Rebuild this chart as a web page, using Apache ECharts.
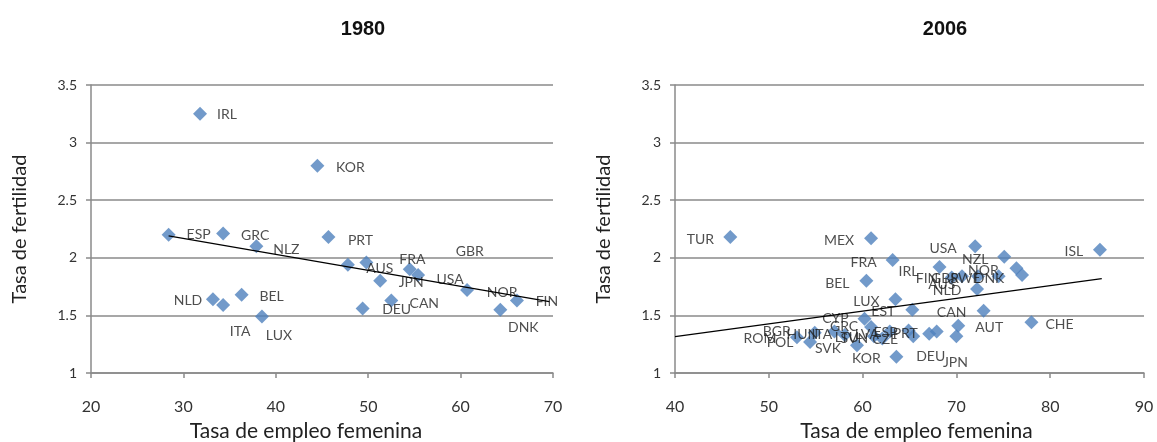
<!DOCTYPE html>
<html>
<head>
<meta charset="utf-8">
<script src="https://cdn.jsdelivr.net/npm/echarts@6/dist/echarts.min.js"></script>
<style>
html,body{margin:0;padding:0;background:#fff;}
#chart{width:1157px;height:442px;}
</style>
</head>
<body>
<div id="chart"></div>
<script>
// ---------- DATA ----------
const countries1980 = ['ESP','IRL','GRC','NLD','ITA','BEL','NLZ','LUX','KOR','PRT','AUS','FRA','DEU','JPN','CAN','GBR','USA','NOR','DNK','FIN'];
const employment1980 = [28.4,31.8,34.3,33.2,34.3,36.3,37.9,38.5,44.5,45.7,47.8,49.8,49.4,51.3,52.5,54.5,55.4,60.7,64.3,66.1];
const fertility1980  = [2.20,3.25,2.21,1.64,1.59,1.68,2.10,1.49,2.80,2.18,1.94,1.96,1.56,1.80,1.63,1.90,1.85,1.72,1.55,1.63];
const trend1980X = [28.4, 69.6];
const trend1980Y = [2.19, 1.62];

const countries2006 = ['TUR','MEX','FRA','BEL','LUX','EST','USA','NZL','ISL','IRL','NOR','DNK','SWE','GBR','FIN','AUS','NLD','CAN','AUT','CHE','JPN','DEU','PRT','KOR','CZE','ESP','LVA','SVN','LTU','GRC','CYP','SVK','ITA','HUN','BGR','POL','ROM'];
const employment2006 = [45.9,60.9,63.2,60.4,63.5,65.3,72.0,75.1,85.3,68.2,76.4,77.0,74.5,72.3,70.6,69.5,72.2,72.9,70.2,78.0,70.0,67.9,67.1,63.6,65.4,64.9,62.9,62.1,61.2,60.9,60.2,59.4,58.1,57.0,54.9,54.4,53.0];
const fertility2006  = [2.18,2.17,1.98,1.80,1.64,1.55,2.10,2.01,2.07,1.92,1.91,1.85,1.84,1.84,1.84,1.83,1.73,1.54,1.41,1.44,1.32,1.36,1.34,1.14,1.32,1.37,1.36,1.30,1.32,1.40,1.47,1.24,1.33,1.36,1.35,1.27,1.31];
const trend2006X = [40, 85.5];
const trend2006Y = [1.315, 1.82];

const yTicks = [1, 1.5, 2, 2.5, 3, 3.5];

// ---------- LABEL PLACEMENT (pixel offsets of label centre from marker) ----------
const labelOffset1980 = {IRL:[27,1],KOR:[33,2],ESP:[30,0],GRC:[32,2],NLZ:[30,3],PRT:[32,3],NLD:[-25,1],ITA:[17,26],BEL:[30,2],LUX:[17,19],AUS:[32,4],FRA:[46,-3],GBR:[60,-18],JPN:[31,2],USA:[32,4],CAN:[33,3],DEU:[34,1],NOR:[35,2],FIN:[30,1],DNK:[23,18]};
const labelOffset2006 = {TUR:[-30,2],MEX:[-32,2],FRA:[-29,2],BEL:[-29,3],LUX:[-29,2],EST:[-29,2],USA:[-32,2],NZL:[-29,3],ISL:[-26,2],IRL:[-31,4],NOR:[-33,2],DNK:[-33,3],SWE:[-33,2],GBR:[-33,2],FIN:[-35,2],AUS:[-10,7],NLD:[-30,2],CAN:[-32,2],AUT:[31,2],CHE:[28,2],JPN:[-1,26],DEU:[-6,25],PRT:[-24,0],KOR:[-30,2],CZE:[-28,3],ESP:[-23,2],LVA:[-23,3],SVN:[-28,0],LTU:[-27,1],GRC:[-27,0],CYP:[-29,0],SVK:[-29,3],ITA:[-23,0],HUN:[-32,3],BGR:[-38,-1],POL:[-30,1],ROM:[-37,1]};

// ---------- BUILD ----------
const blue = '#4F81BD';
const gray = '#8a8a8a';
const labFont = 'Lato, "Open Sans", sans-serif';

function pts(names, xs, ys) {
  return names.map((n, i) => ({ name: n, value: [xs[i], ys[i]] }));
}
function line(xs, ys) { return xs.map((x, i) => [x, ys[i]]); }

function xAxisCfg(idx, min, max, pad) {
  return {
    gridIndex: idx, type: 'value', min: min, max: max, interval: 10,
    name: 'Tasa de empleo femenina', nameLocation: 'middle', nameGap: 48,
    nameTextStyle: { fontFamily: labFont, fontSize: 21, color: '#222', padding: pad },
    axisLine: { show: true, lineStyle: { color: gray, width: 1.5 } },
    axisTick: { show: true, length: 5, lineStyle: { color: gray, width: 1.5 } },
    axisLabel: { margin: 26, fontFamily: '"Liberation Sans Narrow", Lato, sans-serif', fontSize: 16, color: '#333' },
    splitLine: { show: false }
  };
}
function yAxisCfg(idx) {
  return {
    gridIndex: idx, type: 'value', min: 1, max: 3.5, interval: 0.5,
    name: 'Tasa de fertilidad', nameLocation: 'middle', nameGap: 61,
    nameTextStyle: { fontFamily: labFont, fontSize: 20, color: '#222' },
    axisLine: { show: true, lineStyle: { color: gray, width: 1.5 } },
    axisTick: { show: true, length: 5, lineStyle: { color: gray, width: 1.5 } },
    axisLabel: { margin: 14, fontFamily: labFont, fontSize: 14, color: '#333',
      formatter: v => yTicks.indexOf(v) >= 0 ? String(v) : '' },
    splitLine: { show: true, lineStyle: { color: gray, width: 1.5 } }
  };
}
function scatter(idx, names, data, offsets) {
  return {
    type: 'scatter', xAxisIndex: idx, yAxisIndex: idx,
    symbol: 'diamond', symbolSize: [14, 14],
    itemStyle: { color: blue },
    label: { show: true, position: 'inside', formatter: '{b}',
      fontFamily: labFont, fontSize: 14, color: '#222' },
    labelLayout: function (p) {
      const o = offsets[names[p.dataIndex]] || [0, 0];
      return { dx: o[0], dy: o[1], hideOverlap: false };
    },
    emphasis: { disabled: true },
    data: data, z: 3
  };
}
function trend(idx, data) {
  return {
    type: 'line', xAxisIndex: idx, yAxisIndex: idx, data: data,
    symbol: 'none', lineStyle: { color: '#000', width: 1.2 }, z: 4, silent: true
  };
}

const chart = echarts.init(document.getElementById('chart'), null, { renderer: 'canvas' });
const titleStyle = { fontFamily: '"Liberation Sans", Arial, sans-serif', fontWeight: 'bold', fontSize: 20, color: '#111' };
chart.setOption({
  animation: false,
  backgroundColor: '#fff',
  title: [
    { text: '1980', left: 358, top: 14, textAlign: 'center', textStyle: titleStyle },
    { text: '2006', left: 940, top: 14, textAlign: 'center', textStyle: titleStyle }
  ],
  grid: [
    { left: 91, top: 85, width: 462, height: 288, containLabel: false, outerBoundsMode: 'none' },
    { left: 675, top: 85, width: 469, height: 288, containLabel: false, outerBoundsMode: 'none' }
  ],
  xAxis: [xAxisCfg(0, 20, 70, [0, 32, 0, 0]), xAxisCfg(1, 40, 90, [0, 0, 0, 14])],
  yAxis: [yAxisCfg(0), yAxisCfg(1)],
  series: [
    scatter(0, countries1980, pts(countries1980, employment1980, fertility1980), labelOffset1980),
    trend(0, line(trend1980X, trend1980Y)),
    scatter(1, countries2006, pts(countries2006, employment2006, fertility2006), labelOffset2006),
    trend(1, line(trend2006X, trend2006Y))
  ]
});
</script>
</body>
</html>
